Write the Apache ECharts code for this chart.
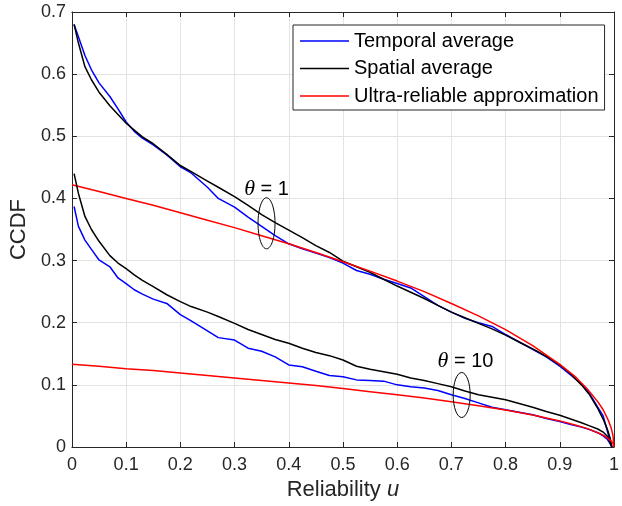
<!DOCTYPE html>
<html>
<head>
<meta charset="utf-8">
<script src="https://cdn.jsdelivr.net/npm/echarts@6/dist/echarts.min.js"></script>
<style>
html,body{margin:0;padding:0;background:#fff;}
#c{width:622px;height:506px;}
</style>
</head>
<body>
<div id="c"></div>
<script>
// ---- data ----
const simU = [0.004,0.012,0.024,0.036,0.05,0.07,0.085,0.1,0.115,0.13,0.15,0.175,0.2,0.22,0.25,0.27,0.3,0.325,0.35,0.375,0.4,0.425,0.45,0.475,0.5,0.525,0.55,0.575,0.6,0.625,0.65,0.675,0.7,0.725,0.75,0.775,0.8,0.825,0.85,0.875,0.9,0.92,0.94,0.955,0.97,0.98,0.988,0.993,0.996];
const temporalTheta1 = [0.680,0.660,0.630,0.607,0.586,0.564,0.544,0.523,0.508,0.497,0.486,0.470,0.451,0.441,0.418,0.400,0.386,0.370,0.355,0.340,0.327,0.319,0.312,0.305,0.296,0.284,0.278,0.270,0.263,0.256,0.242,0.228,0.217,0.207,0.200,0.194,0.181,0.169,0.157,0.145,0.130,0.116,0.101,0.086,0.064,0.050,0.025,0.008,0.0];
const spatialTheta1 = [0.680,0.650,0.612,0.591,0.571,0.549,0.535,0.521,0.510,0.499,0.488,0.471,0.453,0.443,0.428,0.418,0.403,0.389,0.374,0.361,0.349,0.337,0.324,0.313,0.299,0.290,0.281,0.270,0.259,0.249,0.239,0.228,0.217,0.208,0.199,0.190,0.180,0.169,0.158,0.146,0.132,0.118,0.100,0.084,0.062,0.045,0.028,0.014,0.0];
const temporalTheta10 = [0.387,0.355,0.333,0.318,0.301,0.290,0.272,0.263,0.253,0.246,0.238,0.231,0.213,0.203,0.187,0.176,0.172,0.159,0.154,0.145,0.132,0.129,0.122,0.115,0.113,0.108,0.107,0.106,0.100,0.097,0.095,0.091,0.084,0.078,0.071,0.064,0.060,0.056,0.052,0.046,0.041,0.036,0.032,0.028,0.023,0.018,0.012,0.005,0.0];
const spatialTheta10 = [0.440,0.408,0.371,0.350,0.331,0.308,0.296,0.287,0.277,0.268,0.258,0.245,0.234,0.226,0.217,0.210,0.199,0.189,0.181,0.173,0.167,0.159,0.152,0.147,0.140,0.130,0.125,0.121,0.117,0.111,0.107,0.102,0.097,0.090,0.084,0.080,0.076,0.070,0.064,0.057,0.051,0.045,0.039,0.034,0.029,0.024,0.017,0.007,0.0];
const approxU = [0,0.05,0.1,0.15,0.2,0.25,0.3,0.35,0.4,0.45,0.5,0.55,0.6,0.65,0.7,0.75,0.8,0.85,0.9,0.93,0.95,0.97,0.98,0.99,0.995,0.998,1];
const approxTheta1 = [0.422,0.411,0.400,0.389,0.377,0.365,0.353,0.340,0.327,0.313,0.298,0.283,0.267,0.250,0.231,0.211,0.189,0.163,0.133,0.112,0.094,0.073,0.060,0.042,0.030,0.019,0];
const approxTheta10 = [0.133,0.130,0.126,0.123,0.119,0.115,0.111,0.107,0.103,0.099,0.094,0.089,0.084,0.079,0.073,0.0665,0.0595,0.0515,0.042,0.035,0.030,0.023,0.019,0.013,0.0094,0.006,0];
const legendNames = ['Temporal average','Spatial average','Ultra-reliable approximation'];
const xTitle = 'Reliability';
const xTitleVar = 'u';
const yTitle = 'CCDF';
// annotation anchors in data coordinates
const ann1 = {label:' = 1', center:[0.359,0.360], text:[0.359,0.415]};
const ann10 = {label:' = 10', center:[0.719,0.0837], text:[0.726,0.138]};

const pairs = (xs, ys) => xs.map((x,i)=>[x, ys[i]]);
const TXT = '#262626';
const FONT = 'Liberation Sans, Arial, Helvetica, sans-serif';

const chart = echarts.init(document.getElementById('c'), null, {renderer:'canvas'});

function mkSeries(name, data, color){
  return {type:'line', name, data, symbol:'none', showSymbol:false, smooth:false,
    lineStyle:{color, width:1.5}, itemStyle:{color}, xAxisIndex:0, yAxisIndex:0,
    animation:false, emphasis:{disabled:true}};
}

const xBase = {type:'value', min:0, max:1, interval:0.1};
const yBase = {type:'value', min:0, max:0.7, interval:0.1};
const axisLine = {show:true, onZero:false, lineStyle:{color:TXT, width:1}};
const tick = {show:true, inside:true, length:5, lineStyle:{color:TXT, width:1}};

chart.setOption({
  animation:false,
  backgroundColor:'#fff',
  grid:{left:70, right:1, top:12, bottom:59, containLabel:false},
  legend:{
    data:legendNames, orient:'vertical', left:293, top:25,
    padding:[6,6,4,7], itemGap:7.5, itemWidth:49, itemHeight:1.6,
    icon:'rect',
    backgroundColor:'#fff', borderColor:TXT, borderWidth:1, borderRadius:0,
    textStyle:{fontSize:20, fontFamily:FONT, color:'#000', lineHeight:20},
    selectedMode:false
  },
  xAxis:[
    Object.assign({}, xBase, {position:'bottom', axisLine, axisTick:tick,
      axisLabel:{fontSize:18, fontFamily:FONT, color:TXT, margin:9,
        formatter:v=>String(+v.toFixed(1))},
      splitLine:{show:true, lineStyle:{color:'#e3e3e3', width:1}},
      name:xTitle+' {u|'+xTitleVar+'}', nameLocation:'middle', nameGap:30,
      nameTextStyle:{fontSize:22, fontFamily:FONT, color:TXT,
        rich:{u:{fontSize:22, fontFamily:FONT, fontStyle:'italic', color:TXT}}}}),
    Object.assign({}, xBase, {position:'top', axisLine, axisTick:tick,
      axisLabel:{show:false}, splitLine:{show:false}})
  ],
  yAxis:[
    Object.assign({}, yBase, {position:'left', axisLine, axisTick:tick,
      axisLabel:{fontSize:18, fontFamily:FONT, color:TXT, margin:6,
        formatter:v=>String(+v.toFixed(1))},
      splitLine:{show:true, lineStyle:{color:'#e3e3e3', width:1}},
      name:yTitle, nameLocation:'middle', nameGap:40, nameRotate:90,
      nameTextStyle:{fontSize:22, fontFamily:FONT, color:TXT}}),
    Object.assign({}, yBase, {position:'right', axisLine, axisTick:tick,
      axisLabel:{show:false}, splitLine:{show:false}})
  ],
  series:[
    mkSeries(legendNames[0], pairs(simU, temporalTheta1), '#0000ff'),
    mkSeries(legendNames[1], pairs(simU, spatialTheta1), '#000000'),
    mkSeries(legendNames[2], pairs(approxU, approxTheta1), '#ff0000'),
    mkSeries(legendNames[0], pairs(simU, temporalTheta10), '#0000ff'),
    mkSeries(legendNames[1], pairs(simU, spatialTheta10), '#000000'),
    mkSeries(legendNames[2], pairs(approxU, approxTheta10), '#ff0000')
  ]
});

function annGraphics(a, ry){
  const c = chart.convertToPixel({xAxisIndex:0, yAxisIndex:0}, a.center);
  const t = chart.convertToPixel({xAxisIndex:0, yAxisIndex:0}, a.text);
  return [
    {type:'ellipse', shape:{cx:c[0], cy:c[1], rx:8.5, ry:ry},
      style:{fill:'none', stroke:'#000', lineWidth:1}, z:100},
    {type:'text', x:t[0], y:t[1], z:100,
      style:{text:'{g|θ}'+a.label, fill:'#000', font:'20px '+FONT,
        align:'center', verticalAlign:'middle',
        rich:{g:{fontFamily:'Liberation Serif, Times New Roman, serif', fontStyle:'italic', fontSize:22, fill:'#000'}}}}
  ];
}
chart.setOption({graphic:[].concat(annGraphics(ann1, 25.5), annGraphics(ann10, 22.5))});
</script>
</body>
</html>
